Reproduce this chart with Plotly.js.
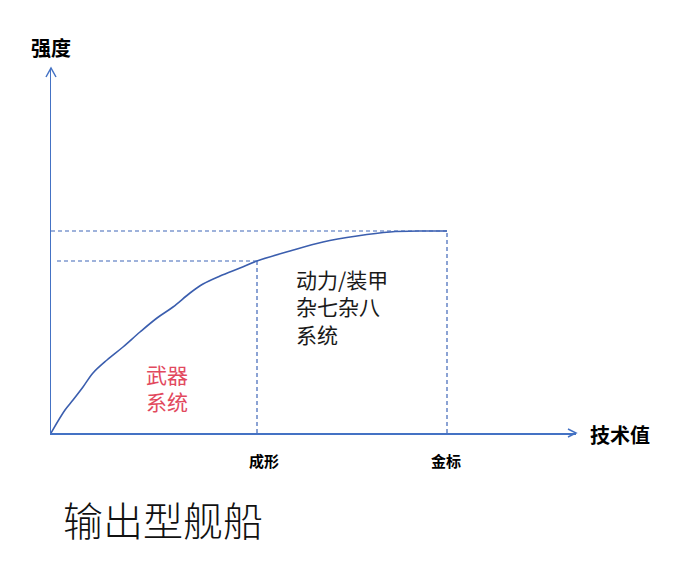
<!DOCTYPE html>
<html>
<head>
<meta charset="utf-8">
<script src="https://cdn.plot.ly/plotly-3.0.1.min.js"></script>
<style>
html,body{margin:0;padding:0;background:#fff;}
#chart{width:699px;height:567px;}
</style>
</head>
<body>
<div id="chart"></div>
<script>
// Curve: strength vs technology value (arbitrary units)
var techValue = [0, 14, 22, 32, 42, 56, 72, 89, 106, 122, 139, 152, 169, 189, 206, 239, 272, 306, 339, 372, 396];
var strength  = [0, 23, 33, 46, 60, 73, 86, 101, 115, 126, 140, 149, 157, 165, 172, 182, 191, 197, 201, 202, 202];

// Milestones on the technology axis
var milestoneLabels = ['成形', '金标'];
var milestoneX = [206, 396];
var milestoneY = [172, 202];

// Text labels
var yAxisLabel = '强度';
var xAxisLabel = '技术值';
var regionLeft = ['武器', '系统'];
var regionRight = ['动力/装甲', '杂七杂八', '系统'];
var chartTitle = '输出型舰船';

var axisBlue = '#4472C4';
var curveBlue = '#3B5EAE';
var dashBlue = '#3F66B8';

var traces = [];
traces.push({
  x: techValue, y: strength, mode: 'lines', type: 'scatter',
  line: {color: curveBlue, width: 1.6, shape: 'spline', smoothing: 1},
  hoverinfo: 'skip', cliponaxis: false
});
var hStart = [6, 0];
for (var i = 0; i < milestoneX.length; i++) {
  traces.push({
    x: [milestoneX[i], milestoneX[i]], y: [0, milestoneY[i]], mode: 'lines', type: 'scatter',
    line: {color: dashBlue, width: 1.2, dash: '4px,3px'}, hoverinfo: 'skip'
  });
  traces.push({
    x: [hStart[i], milestoneX[i]], y: [milestoneY[i], milestoneY[i]], mode: 'lines', type: 'scatter',
    line: {color: dashBlue, width: 1.2, dash: '4px,3px'}, hoverinfo: 'skip'
  });
}

var cjk = '"Noto Sans CJK SC", "Noto Sans", sans-serif';
var annotations = [];
annotations.push({xref: 'paper', yref: 'paper', x: 0, y: 1.055, text: yAxisLabel, showarrow: false,
  xanchor: 'center', yanchor: 'middle', font: {family: cjk, size: 20, color: '#000', weight: 700}});
annotations.push({xref: 'paper', yref: 'paper', x: 1.084, y: -0.003, text: xAxisLabel, showarrow: false,
  xanchor: 'center', yanchor: 'middle', font: {family: cjk, size: 20, color: '#000', weight: 700}});
var msPaperX = [0.406, 0.752];
for (var j = 0; j < milestoneLabels.length; j++) {
  annotations.push({xref: 'paper', yref: 'paper', x: msPaperX[j], y: -0.074, text: milestoneLabels[j],
    showarrow: false, xanchor: 'center', yanchor: 'middle',
    font: {family: cjk, size: 15, color: '#000', weight: 700}});
}
annotations.push({xref: 'x', yref: 'y', x: 93, y: 46, text: regionLeft.join('<br>'), showarrow: false,
  xanchor: 'left', yanchor: 'middle', align: 'left', font: {family: cjk, size: 21, color: '#E2495E'}});
annotations.push({xref: 'x', yref: 'y', x: 243, y: 127, text: regionRight.join('<br>'), showarrow: false,
  xanchor: 'left', yanchor: 'middle', align: 'left', font: {family: cjk, size: 21, color: '#1a1a1a'}});
annotations.push({xref: 'paper', yref: 'paper', x: 0.019, y: -0.236, text: chartTitle, showarrow: false,
  xanchor: 'left', yanchor: 'middle', font: {family: cjk, size: 40, color: '#111', weight: 300}});

var shapes = [
  {type: 'path', xref: 'paper', yref: 'paper', xsizemode: 'pixel', ysizemode: 'pixel',
   xanchor: 0, yanchor: 1, path: 'M-5,-9 L0,0 L5,-9', line: {color: axisBlue, width: 1.5}},
  {type: 'path', xref: 'paper', yref: 'paper', xsizemode: 'pixel', ysizemode: 'pixel',
   xanchor: 1, yanchor: 0, path: 'M-8,-4 L0,0 L-8,4', line: {color: axisBlue, width: 1.5}}
];

var layout = {
  width: 699, height: 567,
  margin: {l: 51, r: 123, t: 68, b: 134, pad: 0},
  paper_bgcolor: '#fff', plot_bgcolor: '#fff',
  showlegend: false,
  xaxis: {range: [0, 525], showgrid: false, zeroline: false, showticklabels: false, ticks: '',
          showline: true, linecolor: axisBlue, linewidth: 1.5, fixedrange: true},
  yaxis: {range: [0, 365], showgrid: false, zeroline: false, showticklabels: false, ticks: '',
          showline: true, linecolor: axisBlue, linewidth: 1.5, fixedrange: true},
  annotations: annotations,
  shapes: shapes
};

Plotly.newPlot('chart', traces, layout, {displayModeBar: false, staticPlot: true});
</script>
</body>
</html>
